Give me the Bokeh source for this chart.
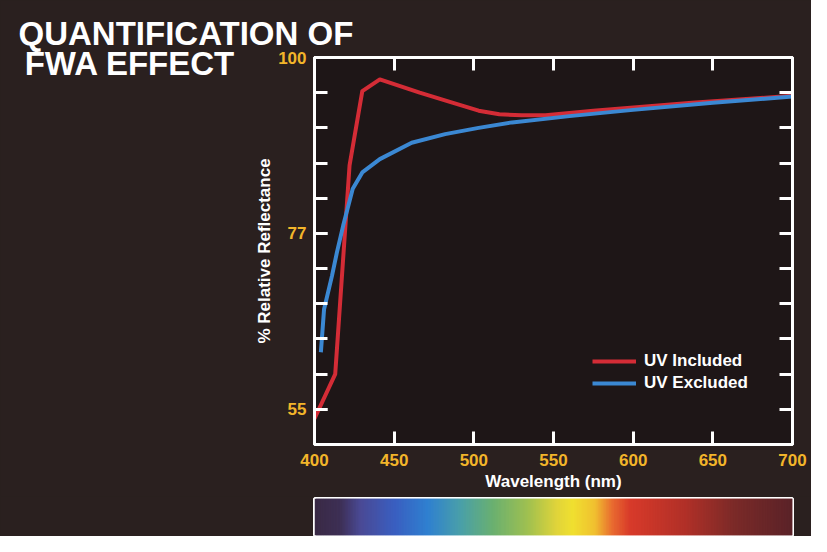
from bokeh.plotting import figure
from bokeh.models import Range1d, LinearAxis, FixedTicker, Legend, LegendItem
from bokeh.layouts import column
from bokeh.embed import file_html
from bokeh.resources import INLINE

# ---------------- data ----------------
title_lines = ["QUANTIFICATION OF", "FWA EFFECT"]
x_title = "Wavelength (nm)"
y_title = "% Relative Reflectance"

nm_included = [400, 413, 422, 430, 441, 466, 487, 503, 516, 530, 545, 575, 637, 700]
refl_included = [53.8, 59.5, 86.2, 95.7, 97.2, 95.5, 94.2, 93.2, 92.75, 92.6, 92.6, 93.2, 94.2, 95.1]

nm_excluded = [404, 406, 411, 414, 418, 424, 430, 441, 461, 482, 503, 524, 560, 600, 650, 700]
refl_excluded = [62.3, 67.8, 72.1, 75.0, 78.5, 83.2, 85.3, 87.0, 89.1, 90.2, 91.0, 91.7, 92.5, 93.3, 94.2, 95.0]

series_names = ["UV Included", "UV Excluded"]

x_ticks = [400, 450, 500, 550, 600, 650, 700]
y_ticks = [55, 59.5, 64, 68.5, 73, 77.5, 82, 86.5, 91, 95.5, 100]
y_labelled = [55, 77.5, 100]
y_tick_labels = {100: "100", 77.5: "77", 55: "55"}

spectrum_nm = [400, 416, 429, 450, 471, 492, 512, 534, 552, 562, 576, 587, 598, 633, 664, 700]
spectrum_colors = ["#3a2a45", "#3d2f55", "#4a4a95", "#3a5ec0", "#2f80d0", "#4aa0a8", "#6ab070",
                   "#a0c050", "#e0d43a", "#f0e030", "#f0c030", "#e86a30", "#d83a2a", "#b03028",
                   "#7a2a28", "#5a2228"]

# ---------------- style ----------------
BG = "#2a201f"
INNER = "#1e1617"
YELLOW = "#f2b52a"
RED = "#d42c36"
BLUE = "#3b88d3"
FONT = "Liberation Sans"

p = figure(width=811, height=496, output_backend="svg", toolbar_location=None,
           x_range=Range1d(400, 700), y_range=Range1d(50.5, 100),
           min_border_left=314, min_border_right=19, min_border_top=57, min_border_bottom=52,
           background_fill_color=INNER, border_fill_color=BG)
p.grid.visible = False
p.outline_line_color = "white"
p.outline_line_width = 3

# slide title, first line (sits in the panel above the frame, shifted to the slide's left edge)
p.title.text = title_lines[0]
p.title.align = "left"
p.title.offset = -296
p.title.standoff = 12
p.title.text_color = "white"
p.title.text_font = FONT
p.title.text_font_style = "bold"
p.title.text_font_size = "33px"


def style_axis(ax):
    ax.axis_line_color = "white"
    ax.axis_line_width = 3
    for kind in ("major", "minor"):
        setattr(ax, kind + "_tick_line_color", "white")
        setattr(ax, kind + "_tick_line_width", 3)
        setattr(ax, kind + "_tick_in", 13)
        setattr(ax, kind + "_tick_out", 0)
    ax.major_label_text_color = YELLOW
    ax.major_label_text_font = FONT
    ax.major_label_text_font_style = "bold"
    ax.major_label_text_font_size = "17px"
    ax.axis_label_text_color = "white"
    ax.axis_label_text_font = FONT
    ax.axis_label_text_font_style = "bold"
    ax.axis_label_text_font_size = "17px"


xb = p.xaxis[0]
xb.ticker = FixedTicker(ticks=x_ticks)
xb.axis_label = x_title
style_axis(xb)
xb.major_label_standoff = 9
xb.axis_label_standoff = 3

yl = p.yaxis[0]
yl.ticker = FixedTicker(ticks=y_labelled, minor_ticks=y_ticks)
yl.major_label_overrides = y_tick_labels
yl.axis_label = y_title
style_axis(yl)
yl.major_label_standoff = 8
yl.axis_label_standoff = 1

# unlabeled tick rows on the top and right edges of the frame
xt = LinearAxis(ticker=FixedTicker(ticks=[], minor_ticks=x_ticks))
style_axis(xt)
xt.major_label_standoff = 0
p.add_layout(xt, "above")
yr = LinearAxis(ticker=FixedTicker(ticks=[], minor_ticks=y_ticks))
style_axis(yr)
yr.major_label_standoff = 0
p.add_layout(yr, "right")

# slide title, second line (outer left panel, beside the first rows of the chart)
title_pos = 99.26
t2 = LinearAxis(ticker=FixedTicker(ticks=[title_pos]), major_label_overrides={title_pos: title_lines[1]})
t2.axis_line_color = None
t2.major_tick_line_color = None
t2.minor_tick_line_color = None
t2.major_label_standoff = 11
t2.major_label_text_color = "white"
t2.major_label_text_font = FONT
t2.major_label_text_font_style = "bold"
t2.major_label_text_font_size = "33px"
p.add_layout(t2, "left")

r_inc = p.line(nm_included, refl_included, line_color=RED, line_width=4, line_join="round")
r_exc = p.line(nm_excluded, refl_excluded, line_color=BLUE, line_width=4, line_join="round")

legend = Legend(items=[LegendItem(label=series_names[0], renderers=[r_inc]),
                       LegendItem(label=series_names[1], renderers=[r_exc])],
                location=(278, 51), background_fill_alpha=0, border_line_color=None,
                padding=0, margin=0, spacing=2, glyph_width=44, glyph_height=20,
                label_height=20, label_standoff=8,
                label_text_color="white", label_text_font=FONT,
                label_text_font_style="bold", label_text_font_size="17px")
p.add_layout(legend, "center")

# ---------------- spectrum bar ----------------
def hex_to_rgb(h):
    return tuple(int(h[i:i + 2], 16) for i in (1, 3, 5))


lefts, rights, cols = [], [], []
for nm in range(400, 700):
    c = nm + 0.5
    for i in range(len(spectrum_nm) - 1):
        if spectrum_nm[i] <= c <= spectrum_nm[i + 1]:
            t = (c - spectrum_nm[i]) / (spectrum_nm[i + 1] - spectrum_nm[i])
            a = hex_to_rgb(spectrum_colors[i])
            b = hex_to_rgb(spectrum_colors[i + 1])
            rgb = tuple(int(round(a[k] + (b[k] - a[k]) * t)) for k in range(3))
            break
    lefts.append(nm)
    rights.append(min(nm + 2, 700))
    cols.append("#%02x%02x%02x" % rgb)

s = figure(width=811, height=40, output_backend="svg", toolbar_location=None,
           x_axis_type=None, y_axis_type=None,
           x_range=Range1d(400, 700), y_range=Range1d(0, 1),
           min_border_left=314, min_border_right=19, min_border_top=2, min_border_bottom=1,
           background_fill_color=INNER, border_fill_color=BG)
s.grid.visible = False
s.quad(left=lefts, right=rights, bottom=0, top=1, fill_color=cols, line_color=None)
s.outline_line_color = "white"
s.outline_line_width = 3

layout = column(p, s, spacing=0, styles={"background-color": BG})
open("out.html", "w").write(file_html(layout, INLINE))
